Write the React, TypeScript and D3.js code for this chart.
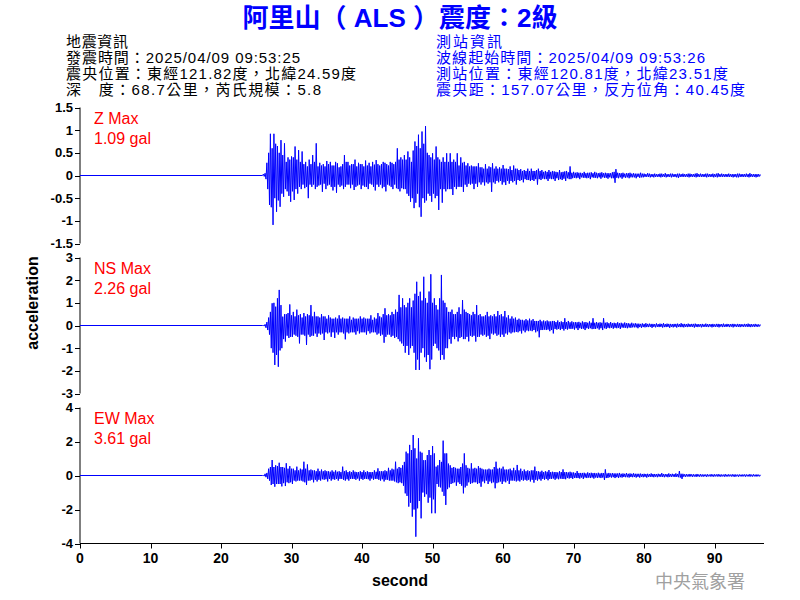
import React from "react";
import * as d3 from "d3";

const titleText = "阿里山（ ALS ）震度：2級";
const quakeInfo = [
  "地震資訊",
  "發震時間：2025/04/09 09:53:25",
  "震央位置：東經121.82度，北緯24.59度",
  "深　度：68.7公里，芮氏規模：5.8",
];
const stationInfo = [
  "測站資訊",
  "波線起始時間：2025/04/09 09:53:26",
  "測站位置：東經120.81度，北緯23.51度",
  "震央距：157.07公里，反方位角：40.45度",
];
const quakeInfoWidths = [62, 234, 290, 255];
const stationInfoWidths = [66, 269, 292, 309];
const xTicks = [0, 10, 20, 30, 40, 50, 60, 70, 80, 90];
const xDomain = [0, 97];
const channelNames = ["Z Max", "NS Max", "EW Max"];
const maxLabels = ["1.09 gal", "2.26 gal", "3.61 gal"];
const yDomains = [
  [-1.5, 1.5],
  [-3, 3],
  [-4, 4],
];
const yTicks = [
  [1.5, 1, 0.5, 0, -0.5, -1, -1.5],
  [3, 2, 1, 0, -1, -2, -3],
  [4, 2, 0, -2, -4],
];
const quietUntil = 25.875;
const sampleStart = 26.0;
const sampleStep = 0.125;

// Z component peaks (gal), one value every 0.125 s from 26.0 s
const zValues = [
  0.03, -0.02, 0.05, -0.08, 0.28, -0.3, 0.5, -0.65, 0.92, -0.7, 0.6, -1.09, 0.92, -0.5, 0.7, -0.8,
  0.65, -0.55, 0.5, -0.69, 0.78, -0.4, 0.45, -0.47, 0.71, -0.3, 0.3, -0.35, 0.4, -0.45, 0.35, -0.58,
  0.42, -0.35, 0.4, -0.54, 0.64, -0.3, 0.35, -0.4, 0.56, -0.25, 0.3, -0.3, 0.53, -0.2, 0.25, -0.28,
  0.3, -0.25, 0.2, -0.5, 0.35, -0.2, 0.25, -0.25, 0.45, -0.2, 0.3, -0.3, 0.71, -0.25, 0.2, -0.22,
  0.28, -0.2, 0.22, -0.36, 0.25, -0.18, 0.2, -0.3, 0.32, -0.22, 0.25, -0.2, 0.3, -0.25, 0.22, -0.33,
  0.22, -0.25, 0.3, -0.38, 0.27, -0.2, 0.18, -0.25, 0.2, -0.22, 0.25, -0.3, 0.45, -0.25, 0.3, -0.2,
  0.3, -0.2, 0.22, -0.28, 0.25, -0.2, 0.25, -0.32, 0.35, -0.25, 0.2, -0.22, 0.28, -0.2, 0.25, -0.3,
  0.25, -0.22, 0.2, -0.25, 0.33, -0.25, 0.22, -0.3, 0.28, -0.18, 0.2, -0.2, 0.3, -0.25, 0.24, -0.33,
  0.34, -0.2, 0.25, -0.25, 0.22, -0.2, 0.25, -0.28, 0.3, -0.25, 0.28, -0.35, 0.25, -0.2, 0.22, -0.22,
  0.3, -0.25, 0.28, -0.3, 0.25, -0.2, 0.3, -0.28, 0.6, -0.3, 0.35, -0.35, 0.4, -0.28, 0.35, -0.3,
  0.45, -0.3, 0.35, -0.4, 0.53, -0.45, 0.4, -0.58, 0.3, -0.5, 0.55, -0.72, 0.75, -0.6, 0.65, -0.4,
  0.9, -0.7, 0.6, -0.91, 0.97, -0.5, 0.7, -0.6, 1.09, -0.55, 0.5, -0.4, 0.45, -0.45, 0.4, -0.58,
  0.49, -0.4, 0.35, -0.5, 0.64, -0.45, 0.4, -0.76, 0.35, -0.3, 0.3, -0.6, 0.4, -0.3, 0.3, -0.35,
  0.49, -0.3, 0.3, -0.3, 0.49, -0.3, 0.3, -0.43, 0.35, -0.25, 0.3, -0.3, 0.49, -0.25, 0.22, -0.25,
  0.4, -0.25, 0.28, -0.36, 0.3, -0.2, 0.22, -0.25, 0.27, -0.18, 0.2, -0.2, 0.22, -0.18, 0.2, -0.3,
  0.2, -0.18, 0.2, -0.25, 0.27, -0.15, 0.18, -0.2, 0.18, -0.15, 0.15, -0.22, 0.25, -0.15, 0.15, -0.18,
  0.2, -0.15, 0.18, -0.36, 0.27, -0.15, 0.15, -0.18, 0.2, -0.12, 0.15, -0.15, 0.18, -0.12, 0.15, -0.2,
  0.23, -0.15, 0.15, -0.21, 0.15, -0.12, 0.14, -0.18, 0.2, -0.12, 0.12, -0.15, 0.22, -0.12, 0.15, -0.2,
  0.15, -0.1, 0.12, -0.12, 0.14, -0.1, 0.1, -0.15, 0.12, -0.08, 0.1, -0.1, 0.15, -0.1, 0.1, -0.12,
  0.15, -0.1, 0.1, -0.12, 0.1, -0.08, 0.12, -0.2, 0.15, -0.08, 0.1, -0.1, 0.12, -0.07, 0.08, -0.08,
  0.1, -0.08, 0.08, -0.12, 0.12, -0.07, 0.08, -0.08, 0.1, -0.08, 0.09, -0.12, 0.08, -0.06, 0.07, -0.1,
  0.12, -0.08, 0.07, -0.1, 0.08, -0.07, 0.09, -0.12, 0.1, -0.06, 0.07, -0.08, 0.2, -0.08, 0.06, -0.06,
  0.08, -0.05, 0.06, -0.06, 0.07, -0.05, 0.06, -0.08, 0.06, -0.04, 0.05, -0.05, 0.08, -0.05, 0.05, -0.06,
  0.06, -0.05, 0.06, -0.08, 0.07, -0.04, 0.05, -0.05, 0.08, -0.05, 0.06, -0.06, 0.05, -0.04, 0.06, -0.07,
  0.07, -0.04, 0.05, -0.05, 0.06, -0.05, 0.05, -0.07, 0.05, -0.04, 0.05, -0.06, 0.07, -0.06, 0.08, -0.16,
  0.14, -0.05, 0.06, -0.06, 0.05, -0.04, 0.05, -0.07, 0.06, -0.04, 0.04, -0.05, 0.05, -0.04, 0.05, -0.06,
  0.06, -0.04, 0.04, -0.04, 0.05, -0.04, 0.04, -0.06, 0.04, -0.03, 0.04, -0.05, 0.06, -0.04, 0.04, -0.04,
  0.04, -0.03, 0.03, -0.03, 0.05, -0.03, 0.04, -0.04, 0.03, -0.03, 0.03, -0.04, 0.04, -0.03, 0.03, -0.03,
  0.03, -0.03, 0.04, -0.04, 0.04, -0.03, 0.03, -0.03, 0.05, -0.04, 0.03, -0.03, 0.03, -0.03, 0.04, -0.04,
  0.04, -0.03, 0.03, -0.03, 0.03, -0.04, 0.04, -0.05, 0.04, -0.03, 0.03, -0.03, 0.04, -0.03, 0.03, -0.03,
  0.03, -0.03, 0.04, -0.04, 0.04, -0.03, 0.03, -0.03, 0.03, -0.03, 0.04, -0.04, 0.05, -0.03, 0.03, -0.03,
  0.04, -0.03, 0.03, -0.03, 0.03, -0.03, 0.04, -0.04, 0.04, -0.03, 0.03, -0.03, 0.03, -0.03, 0.04, -0.04,
  0.03, -0.03, 0.04, -0.04, 0.05, -0.03, 0.03, -0.03, 0.04, -0.03, 0.03, -0.03, 0.03, -0.03, 0.03, -0.03,
  0.04, -0.03, 0.03, -0.03, 0.03, -0.04, 0.03, -0.03, 0.03, -0.04, 0.04, -0.04, 0.04, -0.03, 0.03, -0.03,
  0.03, -0.03, 0.03, -0.03, 0.04, -0.03, 0.03, -0.04, 0.05, -0.03, 0.03, -0.03, 0.03, -0.03, 0.03, -0.04,
  0.03, -0.03, 0.03, -0.02, 0.02,
];

// NS component peaks (gal)
const nsValues = [
  0, -0.02, 0.05, -0.1, 0.15, -0.2, 0.35, -0.4, 0.6, -1.0, 0.98, -1.2, 1.0, -1.74, 0.83, -1.3,
  1.2, -1.82, 1.57, -1.1, 0.9, -1.0, 0.39, -0.6, 0.5, -0.71, 0.5, -0.45, 0.55, -0.55, 0.93, -0.5,
  0.45, -0.5, 0.6, -0.4, 0.4, -0.45, 0.7, -0.5, 0.45, -0.79, 0.5, -0.4, 0.35, -0.4, 0.55, -0.45,
  0.4, -0.86, 0.5, -0.4, 0.45, -0.5, 0.9, -0.45, 0.4, -0.45, 0.6, -0.35, 0.4, -0.5, 0.4, -0.35,
  0.35, -0.4, 0.5, -0.35, 0.4, -0.64, 0.4, -0.3, 0.3, -0.35, 0.45, -0.3, 0.35, -0.5, 0.3, -0.3,
  0.3, -0.55, 0.35, -0.3, 0.3, -0.4, 0.45, -0.3, 0.3, -0.3, 0.35, -0.35, 0.3, -0.61, 0.3, -0.3,
  0.3, -0.35, 0.4, -0.3, 0.25, -0.3, 0.35, -0.3, 0.3, -0.4, 0.3, -0.25, 0.3, -0.35, 0.4, -0.3,
  0.3, -0.3, 0.35, -0.3, 0.3, -0.4, 0.3, -0.25, 0.3, -0.35, 0.45, -0.3, 0.25, -0.3, 0.35, -0.3,
  0.3, -0.4, 0.55, -0.35, 0.4, -0.45, 0.35, -0.4, 0.5, -0.76, 0.76, -0.5, 0.45, -0.4, 0.5, -0.4,
  0.45, -0.5, 0.6, -0.45, 0.5, -0.55, 0.7, -0.5, 0.6, -0.6, 1.35, -0.7, 0.8, -0.79, 1.2, -0.9,
  0.9, -1.2, 0.8, -0.9, 1.0, -1.3, 1.2, -1.0, 0.8, -0.9, 1.1, -1.2, 1.4, -1.96, 1.93, -1.5,
  1.3, -1.96, 1.49, -1.2, 1.1, -1.0, 2.15, -1.4, 1.2, -1.6, 1.0, -1.3, 1.5, -1.93, 2.26, -1.5,
  1.0, -0.9, 1.2, -0.8, 0.9, -1.0, 0.7, -1.1, 1.2, -1.52, 2.23, -1.3, 1.1, -1.5, 1.0, -1.0,
  0.8, -1.0, 0.6, -0.6, 0.6, -0.8, 0.7, -0.5, 0.5, -0.6, 0.5, -0.5, 0.6, -0.7, 0.8, -0.55,
  0.5, -0.5, 1.12, -0.6, 0.7, -0.6, 0.6, -0.5, 0.55, -0.7, 0.5, -0.45, 0.45, -0.5, 0.6, -0.45,
  0.5, -0.71, 0.9, -0.5, 0.45, -0.5, 0.5, -0.4, 0.4, -0.45, 0.4, -0.4, 0.45, -0.5, 0.6, -0.45,
  0.4, -0.6, 0.45, -0.35, 0.4, -0.4, 0.5, -0.35, 0.4, -0.45, 0.64, -0.4, 0.45, -0.5, 0.5, -0.4,
  0.4, -0.5, 0.64, -0.35, 0.35, -0.4, 0.45, -0.3, 0.3, -0.35, 0.4, -0.3, 0.3, -0.3, 0.35, -0.28,
  0.25, -0.3, 0.3, -0.25, 0.25, -0.35, 0.25, -0.22, 0.22, -0.3, 0.28, -0.22, 0.22, -0.25, 0.3, -0.22,
  0.22, -0.25, 0.28, -0.2, 0.2, -0.3, 0.2, -0.25, 0.2, -0.52, 0.25, -0.2, 0.18, -0.2, 0.22, -0.18,
  0.18, -0.2, 0.22, -0.18, 0.18, -0.25, 0.18, -0.2, 0.2, -0.35, 0.2, -0.15, 0.15, -0.18, 0.22, -0.15,
  0.15, -0.2, 0.18, -0.15, 0.15, -0.22, 0.32, -0.15, 0.15, -0.18, 0.2, -0.14, 0.14, -0.15, 0.18, -0.14,
  0.14, -0.18, 0.15, -0.12, 0.14, -0.2, 0.16, -0.12, 0.12, -0.15, 0.18, -0.14, 0.14, -0.2, 0.15, -0.12,
  0.12, -0.15, 0.18, -0.12, 0.12, -0.16, 0.32, -0.15, 0.12, -0.15, 0.15, -0.12, 0.12, -0.18, 0.14, -0.12,
  0.12, -0.2, 0.32, -0.12, 0.12, -0.15, 0.14, -0.1, 0.1, -0.12, 0.15, -0.1, 0.1, -0.14, 0.12, -0.1,
  0.1, -0.12, 0.14, -0.1, 0.1, -0.15, 0.12, -0.09, 0.09, -0.1, 0.13, -0.1, 0.1, -0.12, 0.1, -0.09,
  0.08, -0.1, 0.12, -0.08, 0.08, -0.08, 0.1, -0.08, 0.08, -0.12, 0.08, -0.07, 0.07, -0.1, 0.09, -0.07,
  0.07, -0.08, 0.1, -0.07, 0.07, -0.07, 0.08, -0.06, 0.07, -0.1, 0.07, -0.06, 0.06, -0.08, 0.09, -0.06,
  0.06, -0.07, 0.08, -0.06, 0.07, -0.09, 0.1, -0.07, 0.06, -0.07, 0.08, -0.06, 0.07, -0.1, 0.07, -0.06,
  0.06, -0.08, 0.07, -0.06, 0.07, -0.09, 0.08, -0.06, 0.06, -0.07, 0.1, -0.07, 0.07, -0.08, 0.07, -0.06,
  0.06, -0.07, 0.08, -0.06, 0.06, -0.06, 0.07, -0.06, 0.07, -0.09, 0.08, -0.06, 0.06, -0.07, 0.06, -0.05,
  0.06, -0.08, 0.07, -0.06, 0.05, -0.06, 0.08, -0.06, 0.06, -0.07, 0.06, -0.05, 0.06, -0.08, 0.07, -0.06,
  0.05, -0.06, 0.07, -0.06, 0.07, -0.08, 0.06, -0.05, 0.06, -0.07, 0.08, -0.06, 0.05, -0.06, 0.07, -0.05,
  0.06, -0.07, 0.06, -0.05, 0.07, -0.08, 0.07, -0.05, 0.05, -0.06, 0.07, -0.06, 0.06, -0.07, 0.06, -0.05,
  0.05, -0.06, 0.07, -0.05, 0.06, -0.06, 0.08, -0.06, 0.06, -0.07, 0.06, -0.05, 0.05, -0.06, 0.07, -0.05,
  0.05, -0.06, 0.05, -0.04, 0.04,
];

// EW component peaks (gal)
const ewValues = [
  0, -0.03, 0.1, -0.1, 0.15, -0.2, 0.4, -0.3, 0.5, -0.56, 0.91, -0.5, 0.5, -0.66, 0.6, -0.5,
  0.55, -0.5, 0.75, -0.5, 0.5, -0.64, 0.5, -0.45, 0.45, -0.62, 0.72, -0.4, 0.4, -0.45, 0.55, -0.4,
  0.4, -0.5, 0.4, -0.3, 0.3, -0.35, 0.52, -0.3, 0.3, -0.3, 0.4, -0.3, 0.35, -0.35, 0.81, -0.4,
  0.4, -0.56, 0.65, -0.3, 0.3, -0.3, 0.35, -0.25, 0.3, -0.4, 0.3, -0.25, 0.25, -0.35, 0.4, -0.25,
  0.25, -0.3, 0.35, -0.22, 0.25, -0.25, 0.3, -0.22, 0.25, -0.35, 0.25, -0.2, 0.22, -0.3, 0.3, -0.22,
  0.22, -0.25, 0.3, -0.2, 0.22, -0.3, 0.25, -0.2, 0.2, -0.2, 0.52, -0.25, 0.25, -0.3, 0.3, -0.22,
  0.2, -0.3, 0.25, -0.2, 0.2, -0.2, 0.3, -0.2, 0.22, -0.25, 0.2, -0.18, 0.2, -0.3, 0.25, -0.2,
  0.2, -0.25, 0.3, -0.2, 0.2, -0.2, 0.25, -0.22, 0.2, -0.3, 0.2, -0.18, 0.2, -0.25, 0.3, -0.2,
  0.22, -0.2, 0.42, -0.25, 0.25, -0.3, 0.25, -0.22, 0.25, -0.35, 0.3, -0.25, 0.25, -0.25, 0.45, -0.3,
  0.3, -0.3, 0.4, -0.3, 0.35, -0.35, 0.81, -0.4, 0.4, -0.45, 0.5, -0.4, 0.45, -0.45, 0.6, -0.6,
  0.8, -1.05, 1.4, -1.2, 1.3, -1.83, 1.8, -1.6, 1.5, -2.42, 2.38, -2.0, 1.6, -3.6, 1.0, -1.93,
  2.19, -1.5, 1.4, -2.52, 1.34, -1.0, 0.9, -1.25, 0.9, -1.1, 1.2, -1.6, 1.5, -1.3, 1.2, -2.22,
  1.73, -1.4, 1.3, -2.22, 0.52, -0.5, 0.6, -0.66, 0.91, -0.7, 0.8, -0.95, 2.05, -1.2, 1.3, -1.73,
  1.3, -0.8, 0.7, -0.7, 0.6, -0.5, 0.45, -0.45, 0.5, -0.4, 0.45, -0.6, 0.4, -0.4, 0.4, -0.5,
  0.5, -0.6, 0.7, -1.05, 1.3, -0.7, 0.6, -0.6, 0.45, -0.4, 0.4, -0.5, 0.72, -0.45, 0.4, -0.4,
  0.45, -0.4, 0.4, -0.5, 0.55, -0.45, 0.45, -0.66, 0.4, -0.35, 0.35, -0.45, 0.35, -0.3, 0.35, -0.5,
  0.4, -0.35, 0.35, -0.45, 0.35, -0.4, 0.5, -0.75, 0.81, -0.45, 0.4, -0.4, 0.45, -0.35, 0.4, -0.5,
  0.52, -0.35, 0.35, -0.4, 0.35, -0.3, 0.35, -0.5, 0.4, -0.3, 0.3, -0.3, 0.45, -0.3, 0.3, -0.35,
  0.62, -0.3, 0.3, -0.35, 0.4, -0.25, 0.25, -0.3, 0.35, -0.25, 0.25, -0.3, 0.3, -0.25, 0.25, -0.35,
  0.3, -0.25, 0.3, -0.42, 0.52, -0.25, 0.25, -0.3, 0.25, -0.22, 0.22, -0.3, 0.28, -0.2, 0.2, -0.25,
  0.25, -0.2, 0.22, -0.28, 0.32, -0.2, 0.2, -0.2, 0.22, -0.18, 0.2, -0.25, 0.2, -0.18, 0.18, -0.22,
  0.25, -0.18, 0.2, -0.2, 0.36, -0.2, 0.2, -0.22, 0.2, -0.15, 0.18, -0.18, 0.22, -0.15, 0.18, -0.2,
  0.18, -0.14, 0.15, -0.15, 0.26, -0.15, 0.15, -0.18, 0.15, -0.12, 0.15, -0.2, 0.16, -0.12, 0.12, -0.15,
  0.18, -0.12, 0.14, -0.15, 0.16, -0.12, 0.14, -0.18, 0.15, -0.12, 0.12, -0.14, 0.16, -0.12, 0.12, -0.15,
  0.15, -0.12, 0.14, -0.26, 0.36, -0.15, 0.12, -0.14, 0.15, -0.1, 0.12, -0.12, 0.14, -0.1, 0.12, -0.15,
  0.12, -0.1, 0.12, -0.14, 0.15, -0.1, 0.1, -0.12, 0.12, -0.09, 0.1, -0.1, 0.14, -0.1, 0.1, -0.12,
  0.12, -0.09, 0.1, -0.1, 0.13, -0.09, 0.1, -0.12, 0.1, -0.08, 0.1, -0.12, 0.11, -0.08, 0.09, -0.1,
  0.1, -0.08, 0.09, -0.12, 0.1, -0.08, 0.08, -0.08, 0.12, -0.08, 0.09, -0.1, 0.09, -0.07, 0.08, -0.1,
  0.1, -0.07, 0.08, -0.08, 0.14, -0.08, 0.09, -0.1, 0.08, -0.07, 0.08, -0.1, 0.12, -0.08, 0.08, -0.08,
  0.1, -0.07, 0.08, -0.09, 0.12, -0.08, 0.09, -0.1, 0.26, -0.12, 0.1, -0.2, 0.1, -0.07, 0.07, -0.08,
  0.08, -0.06, 0.07, -0.07, 0.09, -0.06, 0.07, -0.08, 0.07, -0.06, 0.06, -0.08, 0.09, -0.06, 0.06, -0.07,
  0.08, -0.06, 0.06, -0.07, 0.06, -0.05, 0.06, -0.08, 0.07, -0.05, 0.05, -0.06, 0.08, -0.06, 0.06, -0.07,
  0.07, -0.05, 0.06, -0.06, 0.08, -0.06, 0.06, -0.07, 0.06, -0.05, 0.05, -0.07, 0.08, -0.06, 0.05, -0.06,
  0.07, -0.05, 0.05, -0.06, 0.07, -0.06, 0.06, -0.08, 0.06, -0.05, 0.05, -0.07, 0.06, -0.05, 0.05, -0.06,
  0.06, -0.05, 0.06, -0.07, 0.06, -0.05, 0.05, -0.06, 0.08, -0.06, 0.05, -0.06, 0.07, -0.05, 0.05, -0.06,
  0.06, -0.05, 0.05, -0.05, 0.04,
];

const seriesValues = [zValues, nsValues, ewValues];

const FONT = "'Liberation Sans', Arial, 'Noto Sans CJK TC', sans-serif";

const W = 800;
const H = 600;
const plotLeft = 80;
const plotRight = 764;
const panelTops = [107.5, 257.5, 407.5];
const panelH = 136;

export default function App() {
  const x = d3.scaleLinear().domain(xDomain).range([plotLeft, plotRight]);

  const panels = seriesValues.map((vals, i) => {
    const y = d3
      .scaleLinear()
      .domain(yDomains[i])
      .range([panelTops[i] + panelH, panelTops[i]]);
    const pts: [number, number][] = [
      [0, 0],
      [quietUntil, 0],
      ...vals.map((v, k) => [sampleStart + k * sampleStep, v] as [number, number]),
    ];
    const line = d3
      .line<[number, number]>()
      .x((d) => x(d[0]))
      .y((d) => y(d[1]));
    return { y, path: line(pts) || "" };
  });

  const bottom = panelTops[2] + panelH;

  return (
    <svg width={W} height={H} style={{ display: "block", position: "absolute", left: 0, top: 0 }}>
      <rect width={W} height={H} fill="#fff" />
      <text x={400} y={27} textAnchor="middle" fontFamily={FONT} fontWeight="bold" fontSize={26} fill="#0000ff">
        {titleText}
      </text>
      {quakeInfo.map((t, i) => (
        <text
          key={"q" + i}
          x={66}
          y={47 + i * 16}
          fontFamily={FONT}
          fontSize={15}
          fill="#000"
          textLength={quakeInfoWidths[i]}
          lengthAdjust="spacing"
        >
          {t}
        </text>
      ))}
      {stationInfo.map((t, i) => (
        <text
          key={"s" + i}
          x={436}
          y={47 + i * 16}
          fontFamily={FONT}
          fontSize={15}
          fill="#0000ff"
          textLength={stationInfoWidths[i]}
          lengthAdjust="spacing"
        >
          {t}
        </text>
      ))}

      {panels.map((p, i) => (
        <g key={"p" + i}>
          <line x1={plotLeft} x2={plotLeft} y1={panelTops[i]} y2={panelTops[i] + panelH} stroke="#000" strokeWidth={1} />
          {yTicks[i].map((t) => (
            <g key={t}>
              <line
                x1={plotLeft - 5}
                x2={plotLeft}
                y1={Math.round(p.y(t)) + 0.5}
                y2={Math.round(p.y(t)) + 0.5}
                stroke="#000"
              />
              <text
                x={plotLeft - 7}
                y={p.y(t) + 4.5}
                textAnchor="end"
                fontFamily={FONT}
                fontWeight="bold"
                fontSize={13}
                fill="#000"
              >
                {String(t)}
              </text>
            </g>
          ))}
          <path d={p.path} fill="none" stroke="#0000ff" strokeWidth={1} />
          <text x={94} y={panelTops[i] + 16} fontFamily={FONT} fontSize={16} fill="#ff0000">
            {channelNames[i]}
          </text>
          <text x={94} y={panelTops[i] + 36} fontFamily={FONT} fontSize={16} fill="#ff0000">
            {maxLabels[i]}
          </text>
        </g>
      ))}

      <line x1={plotLeft} x2={plotRight} y1={bottom} y2={bottom} stroke="#000" />
      {xTicks.map((t) => (
        <g key={"x" + t}>
          <line x1={Math.round(x(t)) + 0.5} x2={Math.round(x(t)) + 0.5} y1={bottom} y2={bottom + 5} stroke="#000" />
          <text x={x(t)} y={bottom + 19} textAnchor="middle" fontFamily={FONT} fontWeight="bold" fontSize={14} fill="#000">
            {String(t)}
          </text>
        </g>
      ))}
      <text x={400} y={586} textAnchor="middle" fontFamily={FONT} fontWeight="bold" fontSize={16} fill="#000">
        second
      </text>
      <text
        transform="translate(38,303) rotate(-90)"
        textAnchor="middle"
        fontFamily={FONT}
        fontWeight="bold"
        fontSize={16}
        fill="#000"
      >
        acceleration
      </text>
      <text x={700} y={588} textAnchor="middle" fontFamily={FONT} fontSize={18} fill="#a0a0a0">
        中央氣象署
      </text>
    </svg>
  );
}
